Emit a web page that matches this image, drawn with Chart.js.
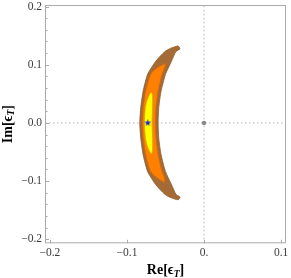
<!DOCTYPE html>
<html>
<head>
<meta charset="utf-8">
<script src="https://cdn.jsdelivr.net/npm/chart.js@4.4.0/dist/chart.umd.min.js"></script>
<style>
  html, body { margin: 0; padding: 0; background: #fff; }
</style>
</head>
<body>
<canvas id="contourChart" width="291" height="278"></canvas>
<script>
// axis ticks
const xTickValues = [-0.2, -0.1, 0, 0.1];
const xTickLabels = ['\u22120.2', '\u22120.1', '0.', '0.1'];
const yTickValues = [-0.2, -0.1, 0, 0.1, 0.2];
const yTickLabels = ['\u22120.2', '\u22120.1', '0.0', '0.1', '0.2'];
const xRange = [-0.2064, 0.1064];
const yRange = [-0.2068, 0.2026];

// contour regions (Re, Im), outermost first
const brownRe = [-0.0337, -0.0433, -0.0510, -0.0626, -0.0731, -0.0790, -0.0821, -0.0834, -0.0821, -0.0790, -0.0731, -0.0626, -0.0510, -0.0433, -0.0337,
                 -0.0311, -0.0365, -0.0424, -0.0501, -0.0558, -0.0587, -0.0596, -0.0587, -0.0558, -0.0501, -0.0424, -0.0365, -0.0311];
const brownIm = [0.1326, 0.1283, 0.1224, 0.1061, 0.0840, 0.0549, 0.0265, 0, -0.0265, -0.0549, -0.0840, -0.1061, -0.1224, -0.1283, -0.1320,
                 -0.1276, -0.1225, -0.1055, -0.0833, -0.0543, -0.0270, 0, 0.0270, 0.0543, 0.0833, 0.1055, 0.1225, 0.1276];

const orangeRe = [-0.0497, -0.0581, -0.0652, -0.0697, -0.0757, -0.0789, -0.0799, -0.0789, -0.0757, -0.0697, -0.0652, -0.0581, -0.0510,
                  -0.0517, -0.0549, -0.0596, -0.0623, -0.0632, -0.0623, -0.0596, -0.0549, -0.0517];
const orangeIm = [0.1019, 0.0968, 0.0899, 0.0823, 0.0549, 0.0265, 0, -0.0265, -0.0549, -0.0823, -0.0899, -0.0968, -0.1020,
                  -0.0933, -0.0823, -0.0549, -0.0265, 0, 0.0265, 0.0549, 0.0823, 0.0933];

const yellowRe = [-0.0684, -0.0710, -0.0742, -0.0763, -0.0774, -0.0763, -0.0742, -0.0710, -0.0684,
                  -0.0671, -0.0667, -0.0668, -0.0675, -0.0668, -0.0667, -0.0671];
const yellowIm = [0.0532, 0.0481, 0.0379, 0.0242, 0, -0.0242, -0.0379, -0.0481, -0.0532,
                  -0.0490, -0.0413, -0.0242, 0, 0.0242, 0.0413, 0.0490];

// best fit point and Standard Model point
const bestRe = [-0.073];
const bestIm = [0];
const smRe = [0];
const smIm = [0];

function toPoints(re, im, close) {
  const pts = re.map((v, i) => ({ x: v, y: im[i] }));
  if (close) pts.push({ x: re[0], y: im[0] });
  return pts;
}

// filled five-point star for the best fit marker
function starImage(size, color) {
  const c = document.createElement('canvas');
  c.width = size; c.height = size;
  const g = c.getContext('2d');
  const r = size / 2, ri = r * 0.42;
  g.beginPath();
  for (let k = 0; k < 10; k++) {
    const a = -Math.PI / 2 + k * Math.PI / 5;
    const rr = k % 2 ? ri : r;
    g.lineTo(r + rr * Math.cos(a), r + rr * Math.sin(a));
  }
  g.closePath();
  g.fillStyle = color;
  g.fill();
  return c;
}

const serif = '"Liberation Serif", "DejaVu Serif", serif';

// frame with inward ticks + axis titles with subscript
const framePlugin = {
  id: 'frame',
  afterDraw(chart) {
    const { ctx, chartArea: a, scales: { x, y } } = chart;
    ctx.save();
    ctx.strokeStyle = '#ababab';
    ctx.lineWidth = 1;
    ctx.strokeRect(a.left + 0.5, a.top + 0.5, a.right - a.left - 1, a.bottom - a.top - 1);
    ctx.beginPath();
    xTickValues.forEach(v => {
      const px = Math.round(x.getPixelForValue(v)) + 0.5;
      ctx.moveTo(px, a.bottom);
      ctx.lineTo(px, a.bottom - 3.5);
    });
    for (let v = -0.2; v <= 0.2001; v += 0.02) {
      const py = Math.round(y.getPixelForValue(v)) + 0.5;
      const major = Math.abs(v * 10 - Math.round(v * 10)) < 1e-6;
      ctx.moveTo(a.left, py);
      ctx.lineTo(a.left + (major ? 4 : 2.5), py);
    }
    ctx.stroke();

    const title = (main, sub, cx, cy, rot) => {
      ctx.save();
      ctx.translate(cx, cy);
      ctx.rotate(rot);
      ctx.fillStyle = '#000';
      ctx.textBaseline = 'alphabetic';
      ctx.font = 'bold 14px ' + serif;
      const w1 = ctx.measureText(main).width;
      const w3 = ctx.measureText(']').width;
      ctx.font = 'bold italic 9.5px ' + serif;
      const w2 = ctx.measureText(sub).width;
      let tx = -(w1 + w2 + w3) / 2;
      ctx.font = 'bold 14px ' + serif;
      ctx.fillText(main, tx, 0);
      tx += w1;
      ctx.font = 'bold italic 9.5px ' + serif;
      ctx.fillText(sub, tx, 2.5);
      tx += w2;
      ctx.font = 'bold 14px ' + serif;
      ctx.fillText(']', tx, 0);
      ctx.restore();
    };
    title('Re[\u03F5', 'T', (a.left + a.right) / 2, 274, 0);
    title('Im[\u03F5', 'T', 11.5, (a.top + a.bottom) / 2, -Math.PI / 2);
    ctx.restore();
  }
};

const region = (re, im, fillColor, lineColor, order) => ({
  data: toPoints(re, im, true),
  showLine: true,
  fill: 'shape',
  backgroundColor: fillColor,
  borderColor: lineColor,
  borderWidth: 0.8,
  tension: 0.2,
  pointRadius: 0,
  order: order
});

const dotted = (pts) => ({
  data: pts,
  showLine: true,
  borderColor: '#b3b3b3',
  borderWidth: 1,
  borderDash: [1.5, 2.5],
  pointRadius: 0,
  order: 5
});

const ctx = document.getElementById('contourChart').getContext('2d');

new Chart(ctx, {
  type: 'scatter',
  data: {
    datasets: [
      {
        data: toPoints(bestRe, bestIm, false),
        pointStyle: starImage(7, '#1a1ae6'),
        pointRadius: 3.5,
        order: 0
      },
      {
        data: toPoints(smRe, smIm, false),
        pointRadius: 2.2,
        backgroundColor: '#8a8a8a',
        borderWidth: 0,
        order: 1
      },
      region(yellowRe, yellowIm, '#ffff00', '#c9b000', 2),
      region(orangeRe, orangeIm, '#ff8000', '#d96a0a', 3),
      region(brownRe, brownIm, '#a56b36', '#8f5a2a', 4),
      dotted([{ x: 0, y: yRange[0] }, { x: 0, y: yRange[1] }]),
      dotted([{ x: xRange[0], y: 0 }, { x: xRange[1], y: 0 }])
    ]
  },
  options: {
    responsive: false,
    animation: false,
    devicePixelRatio: 1,
    layout: { padding: { top: 3.5, right: 2.7, left: 0, bottom: 0 } },
    plugins: {
      legend: { display: false },
      tooltip: { enabled: false }
    },
    scales: {
      x: {
        type: 'linear',
        min: xRange[0],
        max: xRange[1],
        grid: { display: false, drawTicks: false },
        border: { display: false },
        afterBuildTicks: (scale) => { scale.ticks = xTickValues.map(v => ({ value: v })); },
        afterFit: (scale) => { scale.height = 34.7; scale.paddingLeft = 0; scale.paddingRight = 0; },
        ticks: {
          padding: 3,
          color: '#3a3a3a',
          font: { family: serif, size: 11.5 },
          maxRotation: 0,
          autoSkip: false,
          callback: (v) => xTickLabels[xTickValues.indexOf(v)]
        }
      },
      y: {
        type: 'linear',
        min: yRange[0],
        max: yRange[1],
        grid: { display: false, drawTicks: false },
        border: { display: false },
        afterBuildTicks: (scale) => { scale.ticks = yTickValues.map(v => ({ value: v })); },
        afterFit: (scale) => { scale.width = 45; scale.paddingTop = 0; scale.paddingBottom = 0; },
        ticks: {
          padding: 3,
          color: '#3a3a3a',
          font: { family: serif, size: 11.5 },
          autoSkip: false,
          callback: (v) => yTickLabels[yTickValues.indexOf(v)]
        }
      }
    }
  },
  plugins: [framePlugin]
});
</script>
</body>
</html>
